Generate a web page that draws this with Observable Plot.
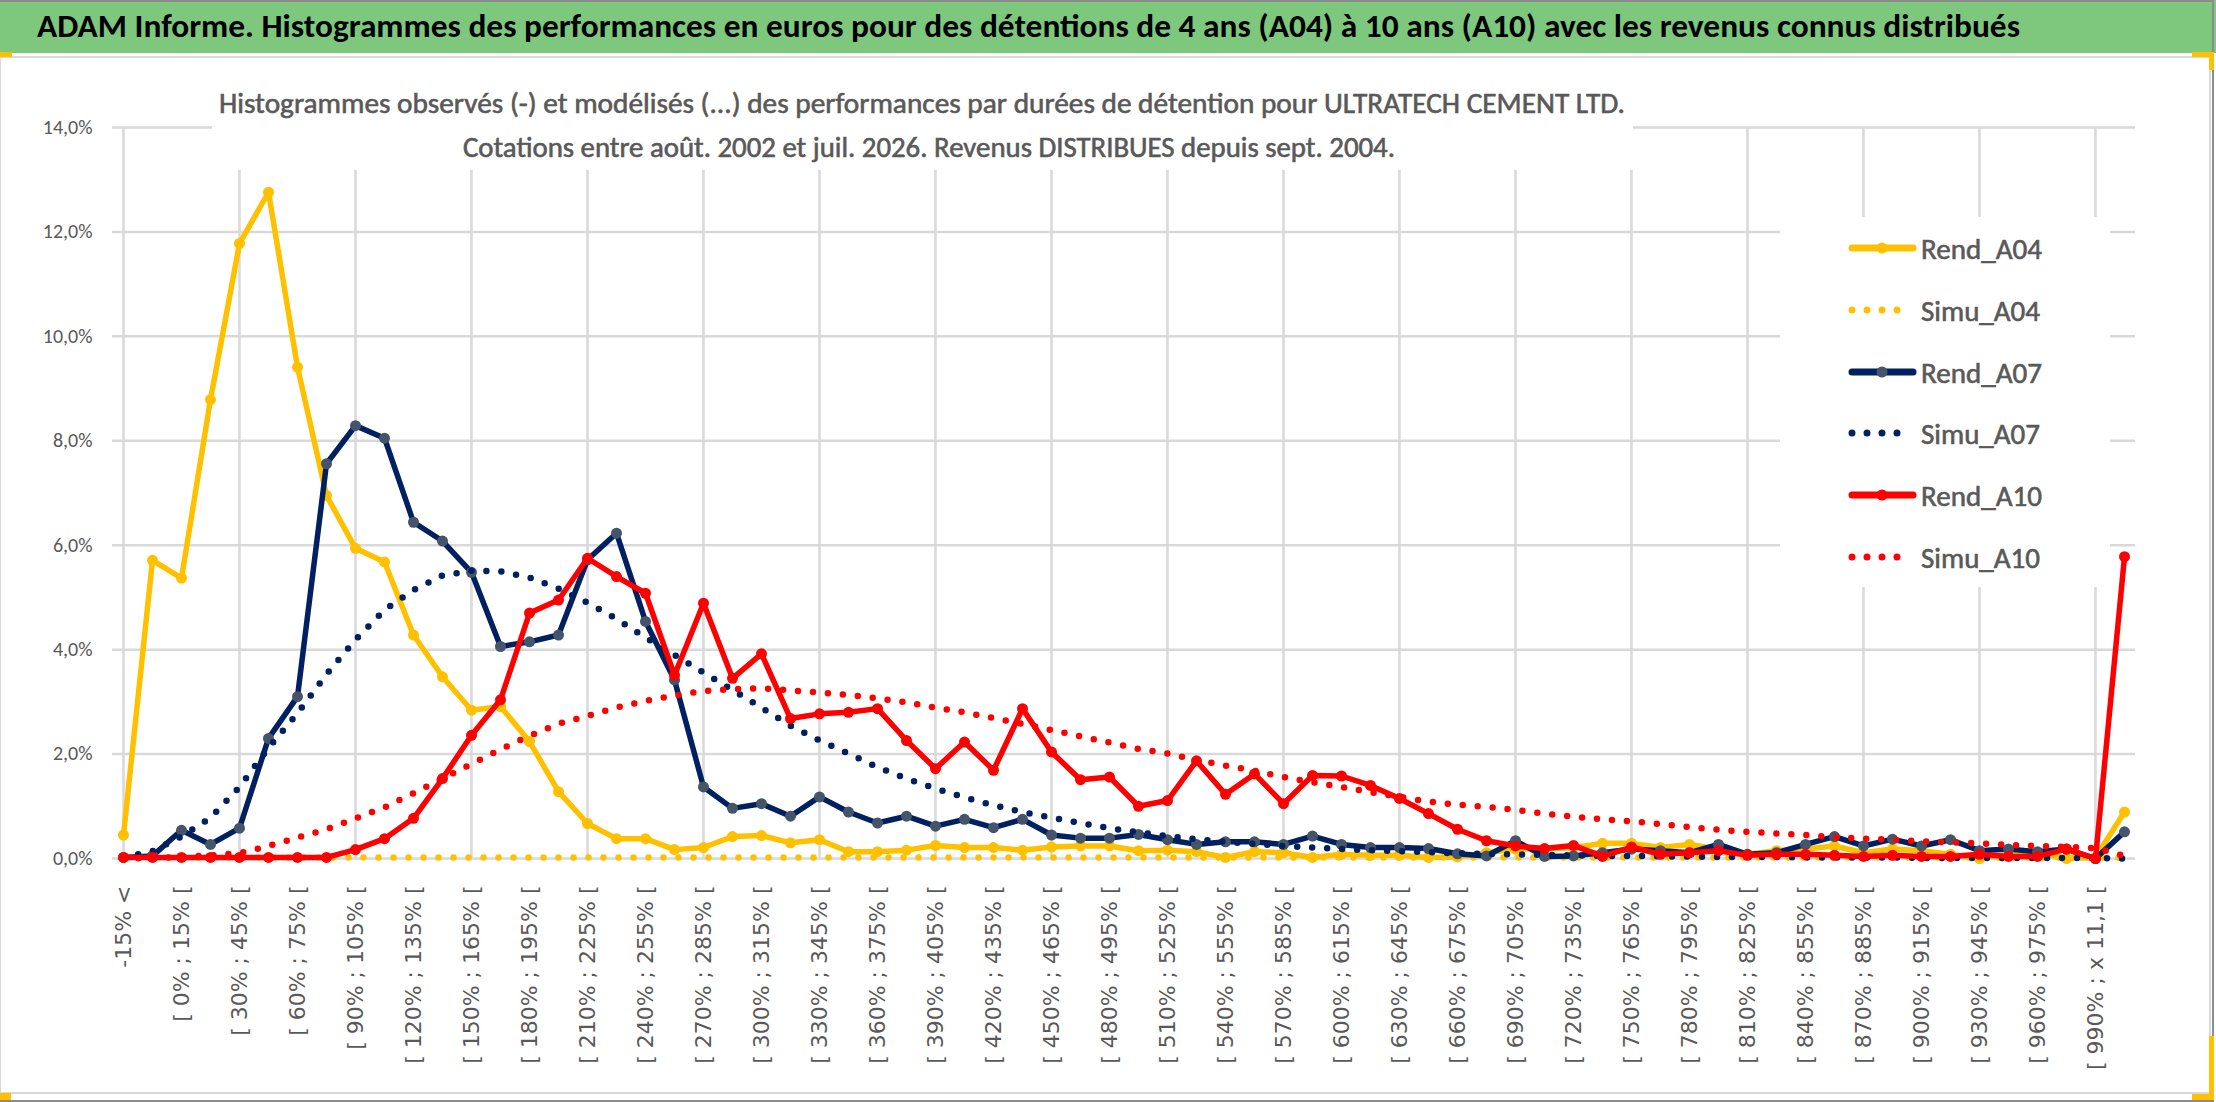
<!DOCTYPE html>
<html>
<head>
<meta charset="utf-8">
<script src="https://cdn.jsdelivr.net/npm/d3@7"></script>
<script src="https://cdn.jsdelivr.net/npm/@observablehq/plot@0.6"></script>
<style>
  html, body { margin: 0; padding: 0; background: #fff; }
  #page { position: relative; width: 2216px; height: 1102px; overflow: hidden; background: #fff; }
  #page > * { position: absolute; }
  #outer { left: 0; top: 0; width: 2212px; height: 1098px; border-top: 2px solid #8c8c8c; border-right: 2px solid #8c8c8c; border-bottom: 2px solid #8c8c8c; }
  #frame { left: 0; top: 56px; width: 2208px; height: 1034px; border: 2px solid #d9d9d9; border-left-width: 1px; }
  .handle { background: #FFC000; }
</style>
</head>
<body>
<div id="page">
  <div id="chart" style="left:0; top:57px;"></div>
  <div id="frame"></div>
  <svg id="title" width="2216" height="53" style="left:0; top:0;"></svg>
  <svg id="subtitle" width="2216" height="180" style="left:0; top:0; pointer-events:none;"></svg>
  <svg id="legend" width="2216" height="600" style="left:0; top:0; pointer-events:none;"></svg>
  <div id="outer"></div>
  <div class="handle" style="left:0; top:52px; width:12px; height:5px;"></div>
  <div class="handle" style="left:2192px; top:52px; width:22px; height:5px;"></div>
  <div class="handle" style="left:2209px; top:52px; width:5px; height:18px;"></div>
  <div class="handle" style="left:2209px; top:1036px; width:5px; height:64px;"></div>
  <div class="handle" style="left:2192px; top:1094px; width:22px; height:6px;"></div>
  <div class="handle" style="left:0; top:1093px; width:11px; height:7px;"></div>
</div>
<script>
// Classes de performance (axe des x)
const categories = [
  "-15% <", "[ -15% ; 0% [", "[ 0% ; 15% [", "[ 15% ; 30% [", "[ 30% ; 45% [", "[ 45% ; 60% [",
  "[ 60% ; 75% [", "[ 75% ; 90% [", "[ 90% ; 105% [", "[ 105% ; 120% [", "[ 120% ; 135% [", "[ 135% ; 150% [",
  "[ 150% ; 165% [", "[ 165% ; 180% [", "[ 180% ; 195% [", "[ 195% ; 210% [", "[ 210% ; 225% [", "[ 225% ; 240% [",
  "[ 240% ; 255% [", "[ 255% ; 270% [", "[ 270% ; 285% [", "[ 285% ; 300% [", "[ 300% ; 315% [", "[ 315% ; 330% [",
  "[ 330% ; 345% [", "[ 345% ; 360% [", "[ 360% ; 375% [", "[ 375% ; 390% [", "[ 390% ; 405% [", "[ 405% ; 420% [",
  "[ 420% ; 435% [", "[ 435% ; 450% [", "[ 450% ; 465% [", "[ 465% ; 480% [", "[ 480% ; 495% [", "[ 495% ; 510% [",
  "[ 510% ; 525% [", "[ 525% ; 540% [", "[ 540% ; 555% [", "[ 555% ; 570% [", "[ 570% ; 585% [", "[ 585% ; 600% [",
  "[ 600% ; 615% [", "[ 615% ; 630% [", "[ 630% ; 645% [", "[ 645% ; 660% [", "[ 660% ; 675% [", "[ 675% ; 690% [",
  "[ 690% ; 705% [", "[ 705% ; 720% [", "[ 720% ; 735% [", "[ 735% ; 750% [", "[ 750% ; 765% [", "[ 765% ; 780% [",
  "[ 780% ; 795% [", "[ 795% ; 810% [", "[ 810% ; 825% [", "[ 825% ; 840% [", "[ 840% ; 855% [", "[ 855% ; 870% [",
  "[ 870% ; 885% [", "[ 885% ; 900% [", "[ 900% ; 915% [", "[ 915% ; 930% [", "[ 930% ; 945% [", "[ 945% ; 960% [",
  "[ 960% ; 975% [", "[ 975% ; 990% [", "[ 990% ; x 11,1 [", "x 11,1 <"
];

// Fréquences en %
const rendA04 = [
  0.45, 5.71, 5.37, 8.79, 11.78, 12.76, 9.41, 6.95, 5.94, 5.68,
  4.28, 3.48, 2.84, 2.91, 2.24, 1.28, 0.67, 0.38, 0.38, 0.17,
  0.21, 0.42, 0.44, 0.30, 0.36, 0.13, 0.13, 0.16, 0.25, 0.21,
  0.21, 0.16, 0.22, 0.24, 0.24, 0.15, 0.16, 0.13, 0.02, 0.13,
  0.11, 0.02, 0.08, 0.06, 0.06, 0.02, 0.03, 0.11, 0.18, 0.18,
  0.21, 0.29, 0.29, 0.21, 0.27, 0.18, 0.08, 0.15, 0.18, 0.24,
  0.11, 0.18, 0.15, 0.08, 0.00, 0.08, 0.11, 0.00, 0.02, 0.89
];
const simuA04 = [
  0.02, 0.02, 0.02, 0.02, 0.02, 0.02, 0.02, 0.02, 0.02, 0.02,
  0.02, 0.02, 0.02, 0.02, 0.02, 0.02, 0.02, 0.02, 0.02, 0.02,
  0.02, 0.02, 0.02, 0.02, 0.02, 0.02, 0.02, 0.02, 0.02, 0.02,
  0.02, 0.02, 0.02, 0.02, 0.02, 0.02, 0.02, 0.02, 0.02, 0.02,
  0.02, 0.02, 0.02, 0.02, 0.02, 0.02, 0.02, 0.02, 0.02, 0.02,
  0.02, 0.02, 0.02, 0.02, 0.02, 0.02, 0.02, 0.02, 0.02, 0.02,
  0.02, 0.02, 0.02, 0.02, 0.02, 0.02, 0.02, 0.02, 0.02, 0.01
];
const rendA07 = [
  0.02, 0.05, 0.54, 0.27, 0.58, 2.30, 3.10, 7.56, 8.29, 8.05,
  6.44, 6.08, 5.48, 4.06, 4.15, 4.28, 5.72, 6.23, 4.54, 3.42,
  1.37, 0.96, 1.05, 0.81, 1.18, 0.89, 0.68, 0.81, 0.62, 0.75,
  0.59, 0.75, 0.45, 0.39, 0.39, 0.46, 0.36, 0.27, 0.32, 0.32,
  0.27, 0.43, 0.27, 0.21, 0.21, 0.19, 0.09, 0.05, 0.34, 0.04,
  0.05, 0.11, 0.18, 0.15, 0.11, 0.27, 0.08, 0.11, 0.27, 0.42,
  0.24, 0.37, 0.24, 0.36, 0.15, 0.18, 0.13, 0.18, 0.00, 0.51
];
const simuA07 = [
  0.02, 0.14, 0.42, 0.78, 1.37, 2.12, 2.78, 3.53, 4.19, 4.76,
  5.14, 5.42, 5.51, 5.50, 5.38, 5.17, 4.90, 4.59, 4.23, 3.90,
  3.56, 3.23, 2.89, 2.54, 2.26, 2.01, 1.75, 1.53, 1.34, 1.17,
  1.02, 0.89, 0.78, 0.68, 0.58, 0.50, 0.43, 0.37, 0.32, 0.28,
  0.24, 0.21, 0.18, 0.16, 0.14, 0.12, 0.10, 0.09, 0.08, 0.07,
  0.06, 0.05, 0.05, 0.04, 0.04, 0.03, 0.03, 0.03, 0.02, 0.02,
  0.02, 0.02, 0.01, 0.01, 0.01, 0.01, 0.01, 0.01, 0.01, 0.00
];
const rendA10 = [
  0.02, 0.02, 0.02, 0.02, 0.02, 0.02, 0.02, 0.02, 0.17, 0.38,
  0.77, 1.53, 2.36, 3.04, 4.70, 4.95, 5.75, 5.40, 5.08, 3.51,
  4.89, 3.45, 3.92, 2.68, 2.77, 2.80, 2.87, 2.26, 1.72, 2.23,
  1.69, 2.87, 2.04, 1.51, 1.56, 1.00, 1.11, 1.87, 1.23, 1.62,
  1.05, 1.59, 1.58, 1.40, 1.15, 0.86, 0.56, 0.34, 0.24, 0.19,
  0.25, 0.04, 0.22, 0.08, 0.11, 0.15, 0.06, 0.08, 0.08, 0.06,
  0.04, 0.06, 0.04, 0.04, 0.08, 0.04, 0.04, 0.18, 0.00, 5.78
];
const simuA10 = [
  0.00, 0.01, 0.03, 0.06, 0.10, 0.24, 0.40, 0.56, 0.77, 0.98,
  1.25, 1.53, 1.81, 2.09, 2.35, 2.58, 2.73, 2.89, 3.02, 3.12,
  3.21, 3.24, 3.26, 3.22, 3.18, 3.13, 3.07, 2.99, 2.89, 2.80,
  2.69, 2.58, 2.46, 2.34, 2.22, 2.10, 2.01, 1.89, 1.78, 1.68,
  1.56, 1.46, 1.37, 1.27, 1.18, 1.09, 1.03, 0.99, 0.93, 0.86,
  0.80, 0.75, 0.71, 0.66, 0.60, 0.55, 0.51, 0.48, 0.45, 0.41,
  0.38, 0.36, 0.33, 0.31, 0.29, 0.26, 0.24, 0.22, 0.20, 0.05
];

const yTicks = [0, 2, 4, 6, 8, 10, 12, 14];
const xTicks = categories.filter((_, i) => i % 2 === 0);
const gridCats = categories.filter((_, i) => i % 4 === 0);

const series = [
  {name: "Rend_A04", values: rendA04, color: "#FFC000", marker: "#FFC000", dotted: false},
  {name: "Simu_A04", values: simuA04, color: "#FFC000", dotted: true},
  {name: "Rend_A07", values: rendA07, color: "#002060", marker: "#44546A", dotted: false},
  {name: "Simu_A07", values: simuA07, color: "#002060", dotted: true},
  {name: "Rend_A10", values: rendA10, color: "#FF0000", marker: "#FF0000", dotted: false},
  {name: "Simu_A10", values: simuA10, color: "#FF0000", dotted: true}
];

// police étroite type Calibri : on prend la première installée
const ctx = document.createElement("canvas").getContext("2d");
const probe = "abcdefghijklmnopqrstuvwxyz ABCDEFGHIJ 0123456789 %,;";
function hasFont(name) {
  return ["monospace", "serif"].some(base => {
    ctx.font = `40px ${base}`;
    const w0 = ctx.measureText(probe).width;
    ctx.font = `40px "${name}", ${base}`;
    return ctx.measureText(probe).width !== w0;
  });
}
const narrowName = ["Carlito", "Liberation Sans Narrow", "Arial Narrow", "DejaVu Sans Condensed", "Lato", "Roboto"]
  .find(hasFont);
const NARROW = narrowName ? `"${narrowName}", sans-serif` : "sans-serif";
const GREY = "#595959";
const DOTS = "0 15";

const rows = s => categories.map((c, i) => ({cat: c, v: s.values[i]}));

const seriesMarks = series.flatMap(s => s.dotted
  ? [Plot.line(rows(s), {x: "cat", y: "v", stroke: s.color, strokeWidth: 6.5, strokeDasharray: DOTS, strokeLinecap: "round"})]
  : [
      Plot.line(rows(s), {x: "cat", y: "v", stroke: s.color, strokeWidth: 5.5, strokeLinejoin: "round"}),
      Plot.dot(rows(s), {x: "cat", y: "v", r: 5.5, fill: s.marker})
    ]);

const chart = Plot.plot({
  width: 2216,
  height: 1040,
  marginLeft: 112,
  marginRight: 81,
  marginTop: 70,
  marginBottom: 239,
  x: {type: "point", domain: categories, padding: 0},
  y: {domain: [0, 14]},
  style: {background: "transparent", overflow: "visible"},
  marks: [
    Plot.ruleY(yTicks, {stroke: "#d9d9d9", strokeWidth: 2.5}),
    Plot.ruleX(gridCats, {stroke: "#d9d9d9", strokeWidth: 2.5}),
    Plot.axisY({ticks: yTicks, tickSize: 0, tickPadding: 20, label: null,
      tickFormat: d => d.toFixed(1).replace(".", ",") + "%",
      fontSize: 20, fontFamily: NARROW, fill: GREY}),
    Plot.axisX({ticks: xTicks, tickSize: 0, tickPadding: 27, tickRotate: -90, label: null,
      fontSize: 22, fontFamily: "DejaVu Sans", fill: GREY}),
    ...seriesMarks
  ]
});
document.getElementById("chart").append(chart);

const svgNS = "http://www.w3.org/2000/svg";
function addEl(svg, tag, attrs) {
  const e = document.createElementNS(svgNS, tag);
  for (const k in attrs) e.setAttribute(k, attrs[k]);
  svg.append(e);
  return e;
}
// texte ajusté à la largeur, sans dépasser sa largeur naturelle
function addText(svg, txt, attrs, width, size, weight = "normal") {
  ctx.font = `${weight} ${size}px ${NARROW}`;
  const natural = ctx.measureText(txt).width;
  const fs = natural > width ? size * width / natural : size;
  const t = addEl(svg, "text", {...attrs, "font-family": NARROW, "font-weight": weight, "font-size": fs.toFixed(2),
    textLength: width, lengthAdjust: "spacingAndGlyphs"});
  t.textContent = txt;
  return t;
}

// Bandeau titre
const title = document.getElementById("title");
addEl(title, "rect", {x: 0, y: 0, width: 2216, height: 53, fill: "#7EC87E"});
addText(title, "ADAM Informe. Histogrammes des performances en euros pour des détentions de 4 ans (A04) à 10 ans (A10) avec les revenus connus distribués",
  {x: 37, y: 37, fill: "#000"}, 1983, 32, "bold");

// Sous-titre
const sub = document.getElementById("subtitle");
addEl(sub, "rect", {x: 212, y: 60, width: 1421, height: 110, fill: "#fff"});
const subStyle = {fill: GREY, stroke: GREY, "stroke-width": 0.6, "text-anchor": "middle"};
addText(sub, "Histogrammes observés (-) et modélisés (...) des performances par durées de détention pour ULTRATECH CEMENT LTD.",
  {...subStyle, x: 922, y: 113}, 1406, 29);
addText(sub, "Cotations entre août. 2002 et juil. 2026. Revenus DISTRIBUES depuis sept. 2004.",
  {...subStyle, x: 929, y: 157}, 932, 29);

// Légende
const leg = document.getElementById("legend");
addEl(leg, "rect", {x: 1780, y: 217, width: 330, height: 370, fill: "#fff"});
const legY = [248, 310, 372, 433, 495, 557];
series.forEach((s, i) => {
  const y = legY[i];
  if (s.dotted) {
    addEl(leg, "line", {x1: 1852, x2: 1912, y1: y, y2: y, stroke: s.color, "stroke-width": 7,
      "stroke-dasharray": DOTS, "stroke-linecap": "round"});
  } else {
    addEl(leg, "line", {x1: 1852, x2: 1913, y1: y, y2: y, stroke: s.color, "stroke-width": 7, "stroke-linecap": "round"});
    addEl(leg, "circle", {cx: 1882, cy: y, r: 5.5, fill: s.marker});
  }
  addText(leg, s.name, {x: 1921, y: y + 11, fill: GREY, stroke: GREY, "stroke-width": 0.6},
    s.dotted ? 119 : 121, 31);
});
</script>
</body>
</html>
